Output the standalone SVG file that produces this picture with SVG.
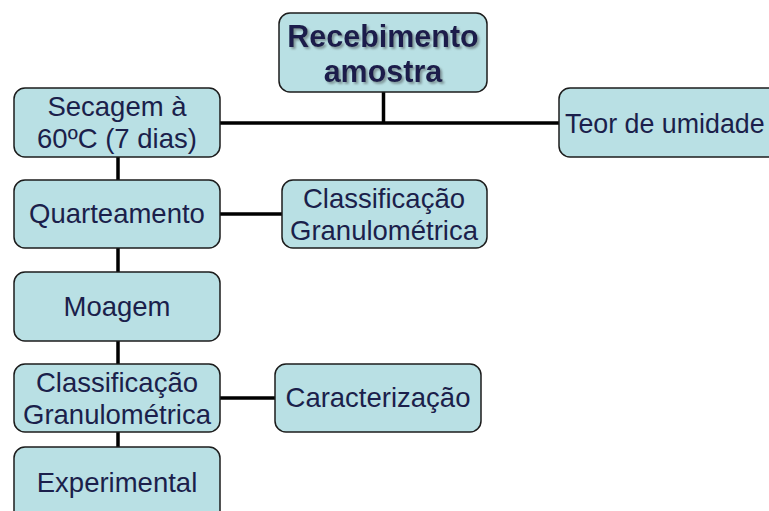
<svg xmlns="http://www.w3.org/2000/svg" width="769" height="511" viewBox="0 0 769 511">
<defs>
<filter id="ds" x="-10%" y="-10%" width="120%" height="130%">
<feDropShadow dx="2" dy="2" stdDeviation="1" flood-color="#6f8386" flood-opacity="0.8"/>
</filter>
<style>
.box{fill:#b9e0e4;stroke:#1c1c1c;stroke-width:1.5}
.t{font-family:"Liberation Sans",Arial,sans-serif;font-size:27.5px;fill:#1b1f4b;text-anchor:middle}
.tb{font-family:"Liberation Sans",Arial,sans-serif;font-size:30.5px;font-weight:bold;fill:#1b1f4b;text-anchor:middle;filter:url(#ds)}
.c{stroke:#000;stroke-width:3.5;fill:none}
</style>
</defs>
<g id="connectors">
<line class="c" x1="220" y1="123" x2="560" y2="123"/>
<line class="c" x1="383.5" y1="92" x2="383.5" y2="123"/>
<line class="c" x1="118" y1="157" x2="118" y2="181"/>
<line class="c" x1="118" y1="248" x2="118" y2="273"/>
<line class="c" x1="118" y1="341" x2="118" y2="365"/>
<line class="c" x1="118" y1="432" x2="118" y2="448"/>
<line class="c" x1="220" y1="214" x2="282" y2="214"/>
<line class="c" x1="220" y1="398" x2="276" y2="398"/>
</g>
<g id="recebimento">
<rect class="box" x="279" y="13" width="208" height="79" rx="11"/>
<text class="tb" x="383" y="47">Recebimento</text>
<text class="tb" x="383" y="82">amostra</text>
</g>
<g id="secagem">
<rect class="box" x="14" y="88" width="206" height="69" rx="11"/>
<text class="t" x="117" y="116">Secagem à</text>
<text class="t" x="117" y="148">60ºC (7 dias)</text>
</g>
<g id="teor">
<rect class="box" x="559" y="88" width="220" height="69" rx="11"/>
<text class="t" x="565" y="133" style="text-anchor:start;font-size:26.8px">Teor de umidade</text>
</g>
<g id="quarteamento">
<rect class="box" x="14" y="180" width="206" height="68" rx="11"/>
<text class="t" x="117" y="223">Quarteamento</text>
</g>
<g id="classificacao1">
<rect class="box" x="282" y="180" width="205" height="68" rx="11"/>
<text class="t" x="384" y="208">Classificação</text>
<text class="t" x="384" y="240">Granulométrica</text>
</g>
<g id="moagem">
<rect class="box" x="14" y="272" width="206" height="69" rx="11"/>
<text class="t" x="117" y="316">Moagem</text>
</g>
<g id="classificacao2">
<rect class="box" x="14" y="364" width="206" height="68" rx="11"/>
<text class="t" x="117" y="392">Classificação</text>
<text class="t" x="117" y="424">Granulométrica</text>
</g>
<g id="caracterizacao">
<rect class="box" x="275" y="364" width="206" height="68" rx="11"/>
<text class="t" x="378" y="407">Caracterização</text>
</g>
<g id="experimental">
<rect class="box" x="14" y="447" width="206" height="80" rx="11"/>
<text class="t" x="117" y="492">Experimental</text>
</g>
</svg>
